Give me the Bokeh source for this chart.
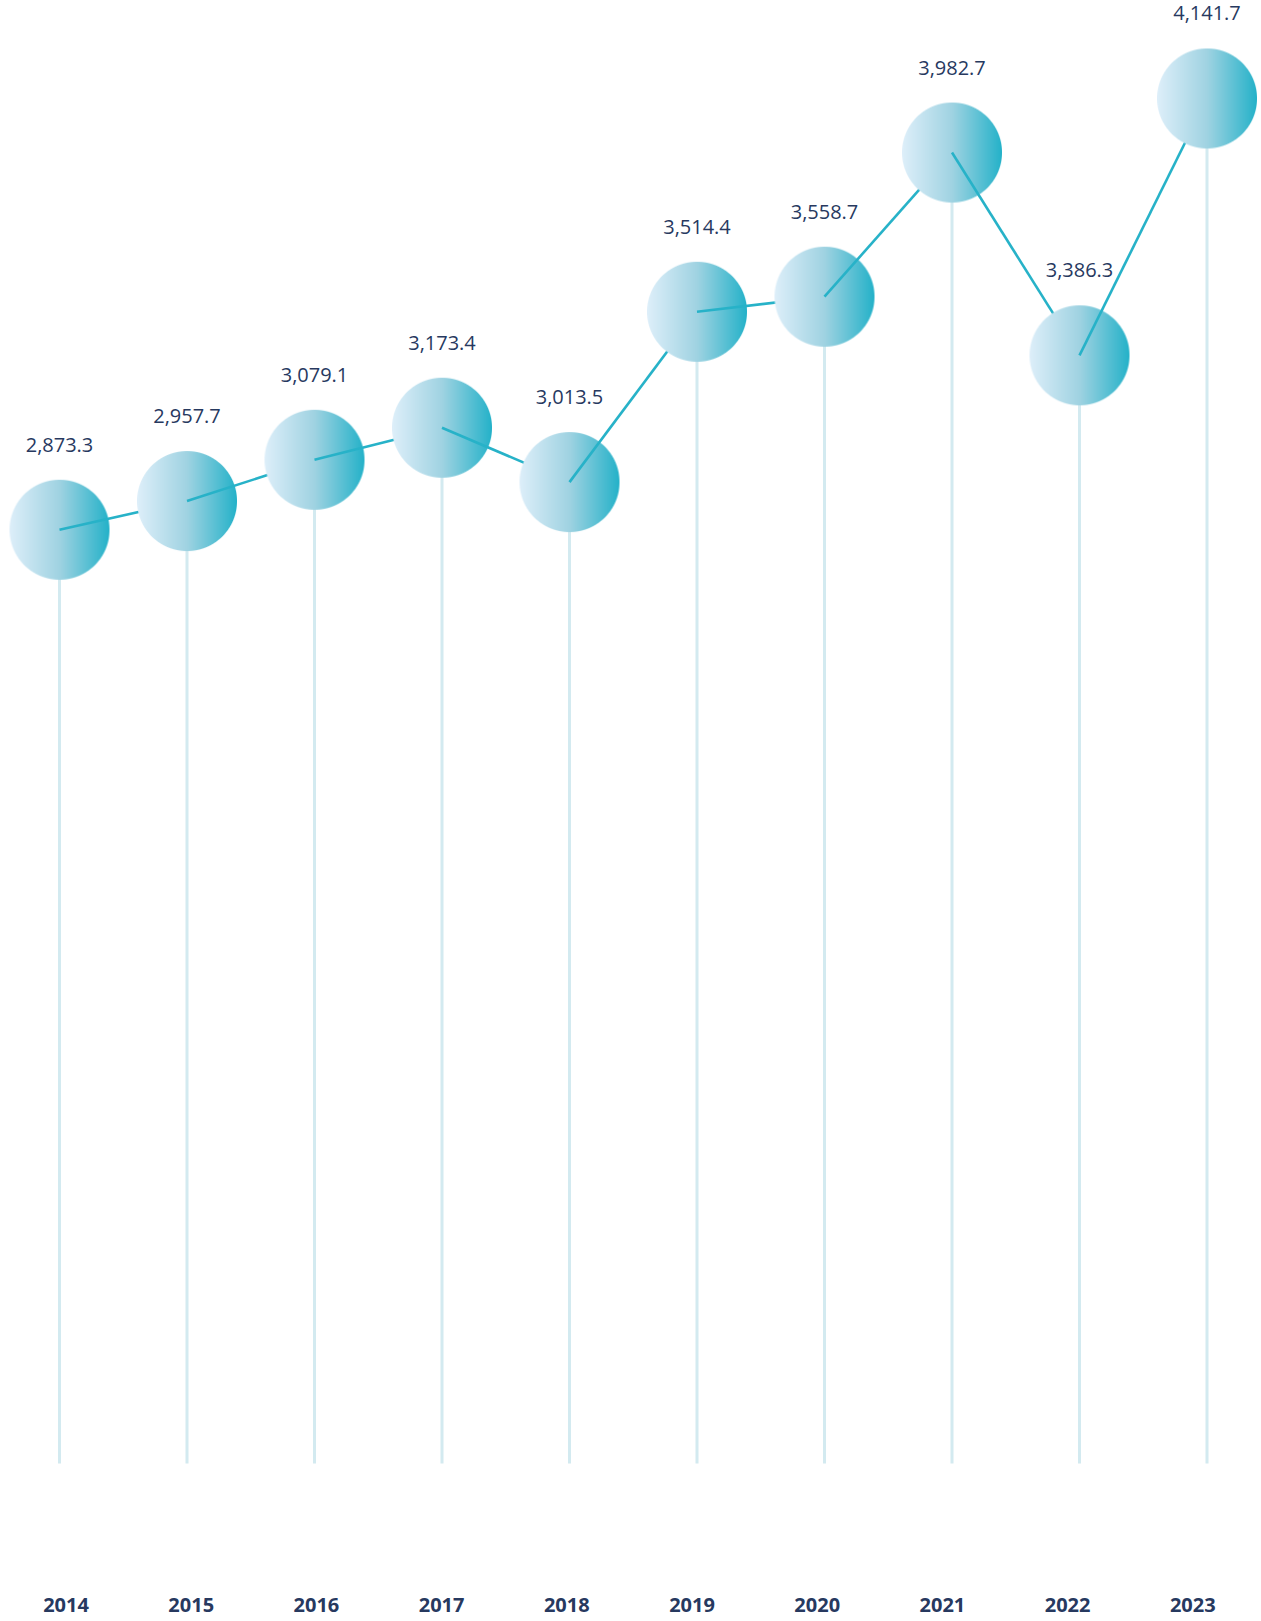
import numpy as np
from bokeh.plotting import figure
from bokeh.models import Range1d
from bokeh.core.properties import value
from bokeh.embed import file_html
from bokeh.resources import INLINE

# ---- data ----
years = [2014, 2015, 2016, 2017, 2018, 2019, 2020, 2021, 2022, 2023]
values = [2873.3, 2957.7, 3079.1, 3173.4, 3013.5, 3514.4, 3558.7, 3982.7, 3386.3, 4141.7]
value_labels = ["{:,.1f}".format(v) for v in values]
year_labels = [str(y) for y in years]

STEM_BASE = 127.0
YEAR_LABEL_Y = -290.0

NAVY = "#27395f"
TEAL = "#27b2c8"
STEM = "#d3eaf0"

# ---- gradient disk image (horizontal gradient, light left -> teal right) ----
S = 100
stops_t = [0.0, 0.5, 1.0]
stops_c = np.array([[222, 239, 250], [160, 211, 226], [36, 178, 201]], dtype=float)
cc = (np.arange(S) + 0.5) / S
rgb = np.stack([np.interp(cc, stops_t, stops_c[:, k]) for k in range(3)], axis=1)
yy, xx = np.mgrid[0:S, 0:S]
d = np.hypot(xx + 0.5 - S / 2, yy + 0.5 - S / 2)
alpha = np.clip(S / 2 - d + 0.5, 0, 1)
img = np.empty((S, S), dtype=np.uint32)
view = img.view(dtype=np.uint8).reshape((S, S, 4))
view[:, :, 0] = rgb[None, :, 0].astype(np.uint8)
view[:, :, 1] = rgb[None, :, 1].astype(np.uint8)
view[:, :, 2] = rgb[None, :, 2].astype(np.uint8)
view[:, :, 3] = (alpha * 255).astype(np.uint8)

p = figure(width=1261, height=1621,
           x_range=Range1d(2013.53725, 2023.42745),
           y_range=Range1d(-337.3, 4429.9),
           x_axis_type=None, y_axis_type=None,
           output_backend="svg", toolbar_location=None, min_border=0)
p.extra_x_ranges = {"lab": Range1d(2013.47684, 2023.54872)}
p.grid.visible = False
p.outline_line_color = None
p.background_fill_color = "white"
p.border_fill_color = "white"

# stems
p.segment(x0=years, y0=values, x1=years, y1=[STEM_BASE] * len(years),
          line_color=STEM, line_width=3)

# circles interleaved with connecting segments
n = len(years)
for i in range(n):
    p.image_rgba(image=[img], x=[years[i]], y=[values[i]], dw=[S], dh=[S],
                 dw_units="screen", dh_units="screen", anchor="center")
    if i < n - 1:
        p.segment(x0=[years[i]], y0=[values[i]], x1=[years[i + 1]], y1=[values[i + 1]],
                  line_color=TEAL, line_width=2.6)

# value labels
p.text(x=years, y=values, text=value_labels, y_offset=-85,
       text_align="center", text_baseline="middle",
       text_font=value("Open Sans"), text_font_size="20px", text_color=NAVY)

# year labels
p.text(x=years, y=[YEAR_LABEL_Y] * n, text=year_labels, x_range_name="lab",
       text_align="center", text_baseline="middle",
       text_font=value("Open Sans"), text_font_style="bold",
       text_font_size="20px", text_color=NAVY)

open("out.html", "w").write(file_html(p, INLINE))
